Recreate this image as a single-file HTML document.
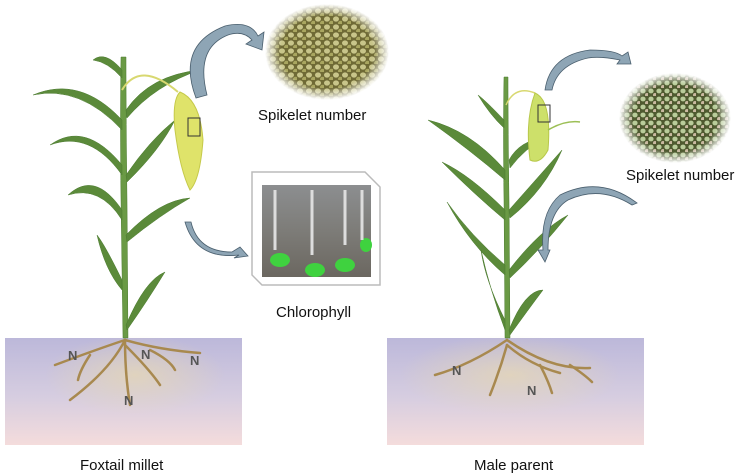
<!DOCTYPE html>
<html><head><meta charset="utf-8"><style>
html,body{margin:0;padding:0;background:#fff;}
svg{display:block;}
text{font-family:"Liberation Sans",sans-serif;}
</style></head><body>
<svg width="750" height="474" viewBox="0 0 750 474" xmlns="http://www.w3.org/2000/svg">
<defs>
<linearGradient id="soil" x1="0" y1="0" x2="0" y2="1">
<stop offset="0" stop-color="#bcb8da"/><stop offset="0.55" stop-color="#d6cde0"/><stop offset="1" stop-color="#f4dcdc"/>
</linearGradient>
<radialGradient id="fade" cx="0.5" cy="0.5" r="0.5">
<stop offset="0" stop-color="#fff"/><stop offset="0.75" stop-color="#fff"/><stop offset="1" stop-color="#000"/>
</radialGradient>
<mask id="m1"><ellipse cx="327" cy="52" rx="62" ry="48" fill="url(#fade)"/></mask>
<mask id="m2"><ellipse cx="675" cy="118" rx="56" ry="45" fill="url(#fade)"/></mask>
<pattern id="dots1" width="9" height="8" patternUnits="userSpaceOnUse">
<rect width="9" height="8" fill="#6f6a35"/>
<ellipse cx="3" cy="3" rx="3" ry="2.6" fill="#c8c58a"/><ellipse cx="7.5" cy="7" rx="2.5" ry="2.2" fill="#a9a660"/>
</pattern>
<pattern id="dots2" width="8" height="8" patternUnits="userSpaceOnUse">
<rect width="8" height="8" fill="#4f5a30"/>
<ellipse cx="3" cy="3" rx="2.6" ry="2.4" fill="#b9cc9a"/><ellipse cx="7" cy="7" rx="2" ry="2" fill="#c9b9a0"/>
</pattern>
<radialGradient id="halo" cx="0.5" cy="0.5" r="0.5">
<stop offset="0" stop-color="#e8d9b0" stop-opacity="0.7"/><stop offset="1" stop-color="#e8d9b0" stop-opacity="0"/>
</radialGradient>
<linearGradient id="photo" x1="0" y1="0" x2="0" y2="1">
<stop offset="0" stop-color="#8c8e90"/><stop offset="0.5" stop-color="#7d7c78"/><stop offset="1" stop-color="#6b6760"/>
</linearGradient>
</defs>

<rect x="5" y="338" width="237" height="107" fill="url(#soil)"/>
<rect x="387" y="338" width="257" height="107" fill="url(#soil)"/>
<ellipse cx="135" cy="375" rx="90" ry="40" fill="url(#halo)"/>
<ellipse cx="510" cy="375" rx="110" ry="40" fill="url(#halo)"/>

<!-- left plant -->
<g fill="#5b8a3a" stroke="#4a7a2e" stroke-width="0.5">
<path d="M123 338 L121 200 Q120 120 121 57 L126 57 Q126 120 127 200 L128 338 Z" fill="#6a9a45"/>
<path d="M122 120 Q80 75 33 95 Q80 85 122 130 Z"/>
<path d="M122 165 Q85 120 50 145 Q90 130 122 175 Z"/>
<path d="M122 210 Q95 170 68 195 Q100 185 122 220 Z"/>
<path d="M122 280 Q105 245 97 235 Q105 270 122 290 Z"/>
<path d="M126 110 Q150 75 200 70 Q155 85 127 118 Z"/>
<path d="M126 175 Q150 140 175 120 Q160 150 127 182 Z"/>
<path d="M126 235 Q160 200 190 198 Q160 215 127 242 Z"/>
<path d="M126 325 Q145 280 165 272 Q148 300 127 330 Z"/>
<path d="M122 70 Q105 50 93 60 Q108 62 122 78 Z"/>
</g>
<path d="M122 90 Q140 60 178 92" fill="none" stroke="#d8d870" stroke-width="2"/>
<path d="M180 92 Q200 100 203 140 Q200 180 190 190 Q180 170 175 130 Q172 100 180 92 Z" fill="#dfe36a" stroke="#c5c94a"/>
<rect x="188" y="118" width="12" height="18" fill="none" stroke="#333" stroke-width="1"/>
<g fill="none" stroke="#a8894f" stroke-width="2.5" stroke-linecap="round">
<path d="M125 340 Q95 350 55 365"/><path d="M125 340 Q160 350 200 353"/><path d="M125 340 Q110 370 70 400"/>
<path d="M125 340 Q125 375 130 405"/><path d="M125 345 Q150 370 160 385"/><path d="M90 355 Q80 370 78 380"/>
<path d="M150 350 Q170 360 175 370"/>
</g>
<g font-size="13" font-weight="bold" fill="#555"><text x="68" y="360">N</text><text x="141" y="359">N</text><text x="190" y="365">N</text><text x="124" y="405">N</text></g>

<!-- right plant -->
<g fill="#5b8a3a" stroke="#4a7a2e" stroke-width="0.5">
<path d="M505 338 L504 200 Q503 130 504 77 L508 77 Q508 130 509 200 L510 338 Z" fill="#6a9a45"/>
<path d="M505 170 Q470 130 428 120 Q470 150 505 180 Z"/>
<path d="M505 210 Q470 175 442 162 Q475 195 505 220 Z"/>
<path d="M505 265 Q470 235 447 202 Q470 245 505 275 Z"/>
<path d="M505 320 Q485 280 481 250 Q490 290 505 330 Z"/>
<path d="M504 120 Q485 100 478 95 Q490 115 504 128 Z"/>
<path d="M509 160 Q520 140 545 138 Q525 148 510 168 Z"/>
<path d="M509 210 Q540 175 562 150 Q545 190 510 218 Z"/>
<path d="M509 270 Q540 230 568 215 Q540 250 510 278 Z"/>
<path d="M509 330 Q525 290 543 290 Q528 310 510 335 Z"/>
</g>
<path d="M506 105 Q515 85 535 93" fill="none" stroke="#d8d870" stroke-width="1.5"/>
<path d="M535 93 Q552 100 548 150 Q540 165 530 160 Q525 120 535 93 Z" fill="#cde06a" stroke="#b8c84a"/>
<path d="M548 130 Q565 120 580 122" fill="none" stroke="#9cbf55" stroke-width="1.5"/>
<rect x="538" y="105" width="12" height="17" fill="none" stroke="#333" stroke-width="1"/>
<g fill="none" stroke="#a8894f" stroke-width="2.5" stroke-linecap="round">
<path d="M507 340 Q470 365 435 375"/><path d="M507 340 Q550 370 590 368"/><path d="M507 345 Q500 370 490 395"/>
<path d="M507 345 Q530 365 560 373"/><path d="M540 365 Q548 380 552 393"/><path d="M570 365 Q585 375 592 382"/>
</g>
<g font-size="13" font-weight="bold" fill="#555"><text x="452" y="375">N</text><text x="527" y="395">N</text></g>

<!-- grain circles -->
<rect x="260" y="0" width="135" height="105" fill="url(#dots1)" mask="url(#m1)"/>
<rect x="615" y="70" width="120" height="95" fill="url(#dots2)" mask="url(#m2)"/>

<!-- chlorophyll photo -->
<path d="M252 172 L365 172 L380 187 L380 285 L262 285 L252 275 Z" fill="#fff" stroke="#bbb" stroke-width="1.5"/>
<rect x="262" y="185" width="109" height="92" fill="url(#photo)"/>
<g fill="#3fd23f"><ellipse cx="280" cy="260" rx="10" ry="7"/><ellipse cx="315" cy="270" rx="10" ry="7"/><ellipse cx="345" cy="265" rx="10" ry="7"/><ellipse cx="366" cy="245" rx="6" ry="7"/></g>
<g fill="none" stroke="#ddd" stroke-width="3"><path d="M275 190 V250"/><path d="M312 190 V255"/><path d="M345 190 V245"/><path d="M362 190 V240"/></g>

<!-- arrows -->
<g fill="#8ea5b5" stroke="#4a5f6e" stroke-width="0.8">
<path d="M196 98 Q176 45 225 26 Q250 20 258 36 L264 32 L262 50 L246 44 L252 40 Q243 30 228 35 Q195 48 207 95 Z"/>
<path d="M191 222 Q198 252 232 252 L240 247 L248 256 L234 258 L239 255 Q196 260 185 222 Z"/>
<path d="M545 90 Q550 55 590 50 Q615 50 622 56 L628 52 L631 64 L617 64 L620 60 Q600 56 588 58 Q557 65 552 90 Z"/>
<path d="M637 203 Q600 175 560 195 Q540 212 543 250 L538 250 L545 262 L550 250 L548 250 Q548 212 568 200 Q600 185 632 205 Z"/>
</g>

<g font-size="15" fill="#111">
<text x="258" y="120">Spikelet number</text>
<text x="276" y="317">Chlorophyll</text>
<text x="626" y="180">Spikelet number</text>
<text x="80" y="470">Foxtail millet</text>
<text x="474" y="470">Male parent</text>
</g>
</svg>
</body></html>
